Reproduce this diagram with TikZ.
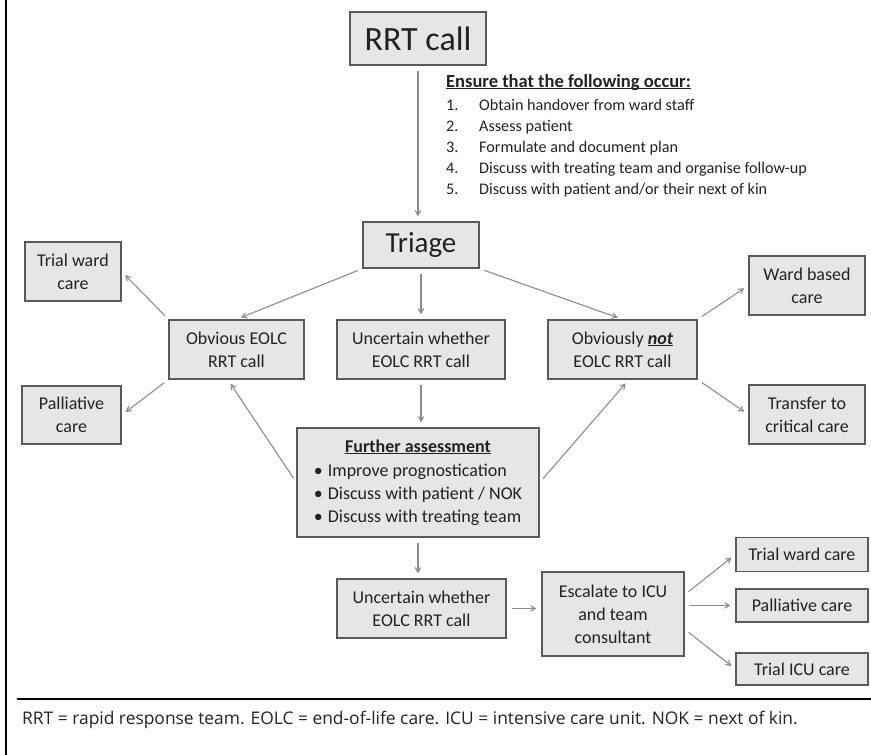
\documentclass[tikz,border=0pt]{standalone}
\usepackage{fontspec}
\setmainfont{Carlito}
\newfontfamily\notefont{Open Sans}
\usepackage{tikz}
\usetikzlibrary{arrows}
\definecolor{boxfill}{HTML}{E6E6E6}
\definecolor{boxline}{HTML}{5A5A5A}
\definecolor{arrgray}{HTML}{8C8C8C}
\definecolor{txt}{HTML}{222222}
\newcommand{\ulfix}[1]{\underline{\smash{#1}}}

\begin{document}
\begin{tikzpicture}[x=1pt,y=-1pt,
  box/.style={draw=boxline,fill=boxfill,line width=1.3pt,text=txt,inner sep=0pt,align=center,
    font=\fontsize{18}{23}\selectfont},
  arr/.style={->,>=angle 60,draw=arrgray,line width=1.1pt,shorten <=5pt,shorten >=5pt}]
\useasboundingbox (0,0) rectangle (871,755);
% frame lines
\draw[line width=2.5pt] (6,0) -- (6,755);
\draw[line width=2.5pt] (17,699) -- (871,699);

\node[box,minimum width=136pt,minimum height=53pt,font=\fontsize{34}{40}\selectfont] (rrt) at (418,38.5) {RRT call};
\node[box,minimum width=116pt,minimum height=46pt,font=\fontsize{29}{34}\selectfont] (triage) at (421,245) {Triage};
\node[anchor=base west,inner sep=0pt,text=txt,font=\fontsize{16.2}{21}\selectfont] (ensure) at (446,87)
  {\begin{tabular}[t]{@{}p{33pt}@{}l@{}}
   \multicolumn{2}{@{}l@{}}{\fontsize{18.5}{21}\selectfont\textbf{\ulfix{Ensure that the following occur:}}}\\[2pt]
   1. & Obtain handover from ward staff\\
   2. & Assess patient\\
   3. & Formulate and document plan\\
   4. & Discuss with treating team and organise follow-up\\
   5. & Discuss with patient and/or their next of kin
   \end{tabular}};

% first level
\node[box,minimum width=135pt,minimum height=59pt] (obv) at (236.5,349.5) {Obvious EOLC\\RRT call};
\node[box,minimum width=168pt,minimum height=59pt] (unc) at (421,349.5) {Uncertain whether\\EOLC RRT call};
\node[box,minimum width=149pt,minimum height=59pt] (obvnot) at (622.5,349.5) {Obviously \textbf{\textit{\ulfix{not}}}\\EOLC RRT call};
\node[box,minimum width=96pt,minimum height=59pt] (twl) at (73,271.5) {Trial ward\\care};
\node[box,minimum width=99pt,minimum height=58pt] (pall) at (71.5,415) {Palliative\\care};
\node[box,minimum width=116pt,minimum height=59pt] (ward) at (807,285.5) {Ward based\\care};
\node[box,minimum width=116pt,minimum height=59pt] (trans) at (807,414.5) {Transfer to\\critical care};

% further assessment
\node[box,minimum width=242pt,minimum height=109pt] (fur) at (418,482.5)
  {\begin{tabular}{@{}l@{\hspace{5pt}}l@{}}
   \multicolumn{2}{c}{\textbf{\ulfix{Further assessment}}}\\[1pt]
   \textbullet & Improve prognostication\\
   \textbullet & Discuss with patient / NOK\\
   \textbullet & Discuss with treating team
   \end{tabular}};

% lower row
\node[box,minimum width=169pt,minimum height=59pt] (unc2) at (421.5,608.5) {Uncertain whether\\EOLC RRT call};
\node[box,minimum width=142pt,minimum height=84pt] (esc) at (613,614) {Escalate to ICU\\and team\\consultant};
\node[box,minimum width=132pt,minimum height=34pt] (twr) at (802,554.5) {Trial ward care};
\node[box,minimum width=132pt,minimum height=33pt] (palr) at (802,605.5) {Palliative care};
\node[box,minimum width=132pt,minimum height=32pt] (tic) at (802,669) {Trial ICU care};

% arrows
\draw[arr] (rrt.south) -- (rrt.south |- triage.north);
\draw[arr] (triage.south west) -- (obv.north);
\draw[arr] (triage.south) -- (unc.north);
\draw[arr] (triage.south east) -- (obvnot.north);
\draw[arr] (obv.north west) -- (twl.east);
\draw[arr] (obv.south west) -- (pall.east);
\draw[arr] (unc.south) -- (unc.south |- fur.north);
\draw[arr] (fur.west) -- (obv.-106);
\draw[arr] (fur.east) -- (obvnot.-78);
\draw[arr] (obvnot.north east) -- (ward.west);
\draw[arr] (obvnot.south east) -- (trans.west);
\draw[arr] (fur.south) -- (fur.south |- unc2.north);
\draw[arr] (unc2.east) -- (unc2.east -| esc.west);
\draw[arr] (esc.15) -- (twr.west);
\draw[arr] (esc.east |- palr.west) -- (palr.west);
\draw[arr] (esc.-12) -- (tic.west);

\node[anchor=base west,inner sep=0pt,text=txt,font=\notefont\fontsize{17.4}{20}\selectfont] (note) at (22,724)
  {RRT = rapid response team. EOLC = end-of-life care. ICU = intensive care unit. NOK = next of kin.};
\end{tikzpicture}
\end{document}
